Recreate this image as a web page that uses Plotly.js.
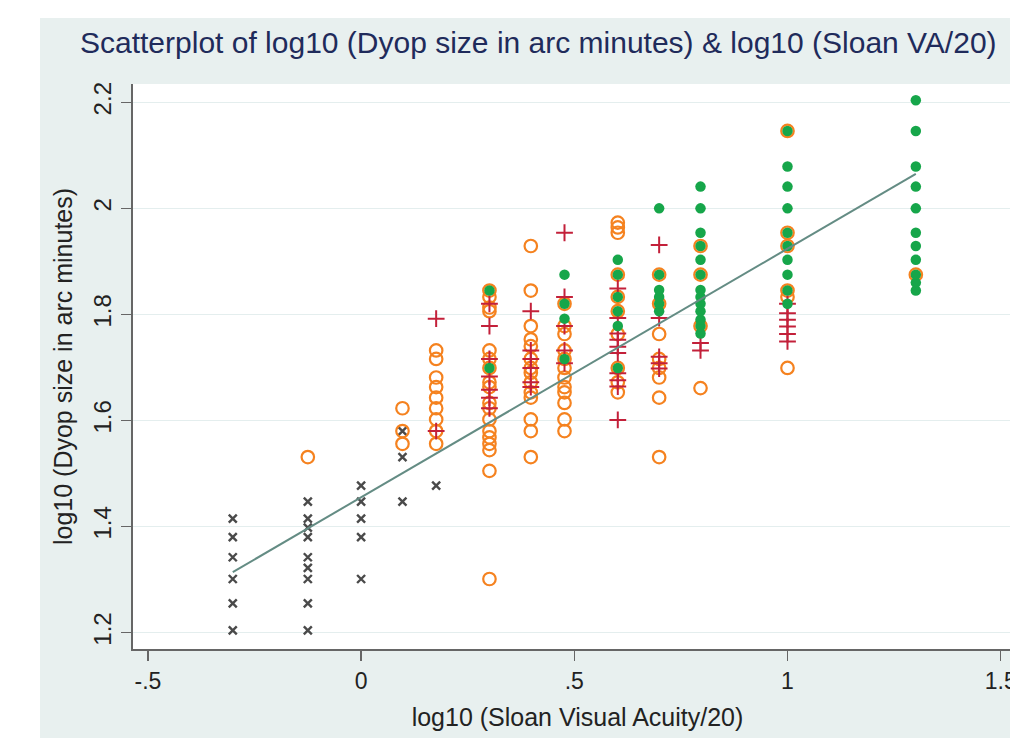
<!DOCTYPE html>
<html>
<head>
<meta charset="utf-8">
<script src="https://cdn.plot.ly/plotly-3.0.1.min.js"></script>
<style>
  html, body { margin: 0; padding: 0; background: #ffffff; overflow: hidden; width: 1010px; height: 738px; }
  #chart { position: absolute; left: 40px; top: 18px; width: 1060px; height: 720px; }
</style>
</head>
<body>
<div id="chart"></div>
<script>
// x levels: log10(Sloan VA / 20)
const xLevels = [-0.301, -0.125, 0, 0.097, 0.176, 0.301, 0.398, 0.477, 0.602, 0.699, 0.796, 1.0, 1.301];

// y values (log10 Dyop size, arc minutes) for each x level, per group
const grayY = [
  [1.204, 1.255, 1.301, 1.342, 1.380, 1.415],
  [1.204, 1.255, 1.301, 1.322, 1.342, 1.380, 1.398, 1.415, 1.447],
  [1.301, 1.380, 1.415, 1.447, 1.477],
  [1.447, 1.531, 1.580],
  [1.477],
  [], [], [], [], [], [], [], []
];
const orangeY = [
  [],
  [1.531],
  [],
  [1.556, 1.580, 1.623],
  [1.556, 1.580, 1.602, 1.623, 1.643, 1.663, 1.681, 1.716, 1.732],
  [1.301, 1.505, 1.544, 1.556, 1.568, 1.580, 1.602, 1.623, 1.633, 1.663, 1.672, 1.699, 1.716, 1.732, 1.806, 1.813, 1.833, 1.845],
  [1.531, 1.580, 1.602, 1.643, 1.653, 1.672, 1.690, 1.699, 1.716, 1.740, 1.753, 1.778, 1.845, 1.929],
  [1.580, 1.602, 1.633, 1.653, 1.663, 1.681, 1.699, 1.716, 1.732, 1.763, 1.778, 1.820],
  [1.653, 1.672, 1.699, 1.763, 1.806, 1.833, 1.875, 1.954, 1.964, 1.973],
  [1.531, 1.643, 1.681, 1.699, 1.716, 1.763, 1.820, 1.875],
  [1.661, 1.778, 1.875, 1.929],
  [1.699, 1.833, 1.845, 1.929, 1.954, 2.146],
  [1.875]
];
const redY = [
  [], [], [], [],
  [1.580, 1.792],
  [1.623, 1.643, 1.658, 1.683, 1.716, 1.778, 1.820],
  [1.663, 1.672, 1.699, 1.716, 1.732, 1.806],
  [1.708, 1.732, 1.778, 1.833, 1.954],
  [1.601, 1.664, 1.676, 1.689, 1.727, 1.739, 1.752, 1.764, 1.793, 1.849],
  [1.698, 1.708, 1.720, 1.793, 1.931],
  [1.732, 1.746],
  [1.749, 1.763, 1.777, 1.790, 1.802, 1.820],
  []
];
const greenY = [
  [], [], [], [], [],
  [1.699, 1.845],
  [],
  [1.716, 1.792, 1.820, 1.875],
  [1.699, 1.778, 1.806, 1.833, 1.875, 1.903],
  [1.806, 1.820, 1.833, 1.846, 1.875, 2.000],
  [1.764, 1.778, 1.790, 1.806, 1.820, 1.833, 1.846, 1.875, 1.903, 1.929, 1.954, 2.000, 2.041],
  [1.820, 1.845, 1.875, 1.903, 1.929, 1.954, 2.000, 2.041, 2.079, 2.146],
  [1.845, 1.860, 1.875, 1.903, 1.929, 1.954, 2.000, 2.041, 2.079, 2.146, 2.204]
];
// linear fit line end points
const fitX = [-0.301, 1.301];
const fitY = [1.314, 2.065];

const xTickVals = [-0.5, 0, 0.5, 1, 1.5];
const xTickText = ['-.5', '0', '.5', '1', '1.5'];
const yTickVals = [1.2, 1.4, 1.6, 1.8, 2.0, 2.2];
const yTickText = ['1.2', '1.4', '1.6', '1.8', '2', '2.2'];

function flatten(groups) {
  const xs = [], ys = [];
  groups.forEach((list, i) => list.forEach(v => { xs.push(xLevels[i]); ys.push(v); }));
  return { x: xs, y: ys };
}

const g = flatten(grayY), o = flatten(orangeY), r = flatten(redY), gr = flatten(greenY);

const traces = [
  { type: 'scatter', mode: 'markers', x: g.x, y: g.y, hoverinfo: 'skip',
    marker: { symbol: 'x-thin', size: 8, color: '#4a4a4a', line: { color: '#4a4a4a', width: 2.4 } } },
  { type: 'scatter', mode: 'markers', x: o.x, y: o.y, hoverinfo: 'skip',
    marker: { symbol: 'circle-open', size: 12.5, color: '#f5821f', line: { color: '#f5821f', width: 2.2 } } },
  { type: 'scatter', mode: 'markers', x: r.x, y: r.y, hoverinfo: 'skip',
    marker: { symbol: 'cross-thin', size: 12, color: '#c3203a', line: { color: '#c3203a', width: 2 } } },
  { type: 'scatter', mode: 'markers', x: gr.x, y: gr.y, hoverinfo: 'skip',
    marker: { symbol: 'circle', size: 10.5, color: '#16a64a', line: { width: 0 } } },
  { type: 'scatter', mode: 'lines', x: fitX, y: fitY, hoverinfo: 'skip',
    line: { color: '#648c84', width: 2 } }
];

const layout = {
  width: 1060, height: 720,
  paper_bgcolor: '#e8f0ef',
  plot_bgcolor: '#ffffff',
  showlegend: false,
  margin: { l: 93, r: 78, t: 66, b: 89 },
  font: { family: 'Liberation Sans, Arial, sans-serif', color: '#222222' },
  title: {
    text: 'Scatterplot of log10 (Dyop size in arc minutes) & log10 (Sloan VA/20)',
    font: { size: 30, color: '#1f2b5b', family: 'Liberation Sans, Arial, sans-serif' },
    xref: 'container', yref: 'container',
    x: 40 / 1060, xanchor: 'left',
    y: 1 - 24 / 720, yanchor: 'middle'
  },
  xaxis: {
    range: [-0.535, 1.55],
    tickvals: xTickVals, ticktext: xTickText,
    ticks: 'outside', ticklen: 10, tickwidth: 1.5, tickcolor: '#666666',
    showline: true, linecolor: '#666666', linewidth: 2,
    showgrid: false, zeroline: false,
    tickfont: { size: 23, color: '#222222' },
    title: { text: 'log10 (Sloan Visual Acuity/20)', font: { size: 25, color: '#222222' }, standoff: 16 }
  },
  yaxis: {
    range: [1.169, 2.2345],
    tickvals: yTickVals, ticktext: yTickText,
    tickangle: -90,
    ticks: 'outside', ticklen: 10, tickwidth: 1.5, tickcolor: '#666666',
    showline: true, linecolor: '#666666', linewidth: 2,
    showgrid: true, gridcolor: '#e4eeee', gridwidth: 1.5, zeroline: false,
    tickfont: { size: 24, color: '#222222' },
    title: { text: 'log10 (Dyop size in arc minutes)', font: { size: 25, color: '#222222' }, standoff: 10 }
  }
};

Plotly.newPlot('chart', traces, layout, { staticPlot: true, displayModeBar: false });
</script>
</body>
</html>
